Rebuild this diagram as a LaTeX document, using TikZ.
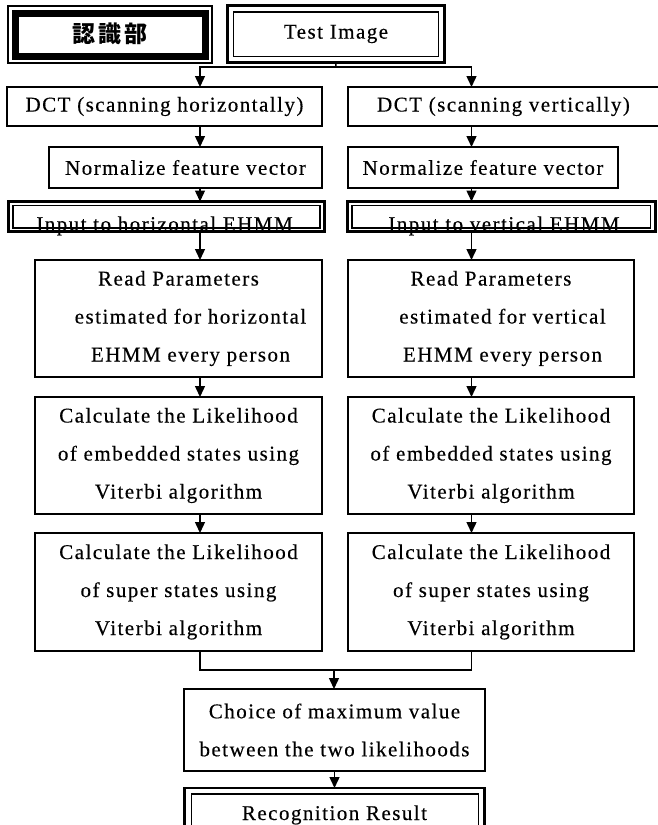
\documentclass[tikz,border=0pt]{standalone}
\usepackage{fontspec}
\usetikzlibrary{arrows.meta,backgrounds}
\newfontfamily\tfont[LetterSpace=7,FakeBold=0.3]{Liberation Serif}
\newfontfamily\cjkfont[LetterSpace=15]{Noto Sans CJK JP}

\begin{document}
\begin{tikzpicture}[x=1pt,y=-1pt,
  every node/.style={font=\tfont\fontsize{21}{38}\selectfont, inner sep=0pt, outer sep=0pt},
  box/.style={draw, fill=white, line width=1.6pt, align=center},
  obox/.style={draw, fill=white, line width=2.2pt},
  ibox/.style={line width=1.6pt},
  link/.style={line width=1.4pt},
  arr/.style={line width=1.4pt, -{Triangle[width=10pt,length=11pt]}},
]
\useasboundingbox (0,0) rectangle (658,825);
\clip (0,0) rectangle (658,825);

% column guides for the connectors
\coordinate (colL) at (200,0);
\coordinate (colR) at (471.5,0);

% title frame
\draw[line width=2pt] (8,6) rectangle (212,63);
\draw[line width=7pt] (15,13) rectangle (205,56);
\node[font=\cjkfont\bfseries\fontsize{23}{23}\selectfont] (title) at (110,34) {認識部};

% input
\node[obox, minimum width=217, minimum height=57] (test) at (336,34) {Test Image};
\draw[ibox] (233.5,12) rectangle (438.5,56.5);

% left branch (horizontal scanning)
\node[box, minimum width=315, minimum height=39] (dctL) at (164.5,106.5) {DCT (scanning horizontally)};
\node[box, minimum width=273, minimum height=41] (normL) at (185.5,167.5) {Normalize feature vector};
\node[obox, minimum width=316, minimum height=30] (hmodel) at (166.5,216.5) {};
\draw[ibox] (13,205.5) rectangle (320,228);
\node[anchor=base] (hmodeltext) at (164.5,231) {Input to horizontal EHMM};
\node[box, minimum width=287, minimum height=117] (readL) at (178.5,318.5)
  {Read Parameters\\\hspace*{24pt}estimated for horizontal\\\hspace*{24pt}EHMM every person};
\node[box, minimum width=287, minimum height=117] (embL) at (178.5,455.5)
  {Calculate the Likelihood\\of embedded states using\\Viterbi algorithm};
\node[box, minimum width=287, minimum height=118] (supL) at (178.5,592)
  {Calculate the Likelihood\\of super states using\\Viterbi algorithm};

% right branch (vertical scanning)
\node[box, minimum width=311, minimum height=39] (dctR) at (503.5,106.5) {DCT (scanning vertically)};
\node[box, minimum width=270, minimum height=41] (normR) at (483,167.5) {Normalize feature vector};
\node[obox, minimum width=308, minimum height=30] (vmodel) at (501.5,216.5) {};
\draw[ibox] (352,205.5) rectangle (650.5,228);
\node[anchor=base] (vmodeltext) at (504,231) {Input to vertical EHMM};
\node[box, minimum width=286, minimum height=117] (readR) at (491,318.5)
  {Read Parameters\\\hspace*{23pt}estimated for vertical\\\hspace*{23pt}EHMM every person};
\node[box, minimum width=286, minimum height=117] (embR) at (491,455.5)
  {Calculate the Likelihood\\of embedded states using\\Viterbi algorithm};
\node[box, minimum width=286, minimum height=118] (supR) at (491,592)
  {Calculate the Likelihood\\of super states using\\Viterbi algorithm};

% decision and output
\node[box, minimum width=301, minimum height=82] (choice) at (334.5,730)
  {Choice of maximum value\\between the two likelihoods};
\node[obox, minimum width=300, minimum height=66] (result) at (334.5,821) {};
\draw[ibox] (191.5,794) rectangle (478.5,840);
\node[anchor=base] (resulttext) at (334.5,820) {Recognition Result};

% connectors sit behind the boxes
\begin{scope}[on background layer]
  % split from the input image
  \coordinate (split) at (335.75,67);
  \draw[link] (test.south) -- (split);
  \draw[arr] (split) -| (dctL.north -| colL);
  \draw[arr] (split) -| (dctR.north -| colR);

  % left chain
  \draw[arr] (dctL.south -| colL) -- (normL.north -| colL);
  \draw[arr] (normL.south -| colL) -- (hmodel.north -| colL);
  \draw[arr] (hmodel.south -| colL) -- (readL.north -| colL);
  \draw[arr] (readL.south -| colL) -- (embL.north -| colL);
  \draw[arr] (embL.south -| colL) -- (supL.north -| colL);

  % right chain
  \draw[arr] (dctR.south -| colR) -- (normR.north -| colR);
  \draw[arr] (normR.south -| colR) -- (vmodel.north -| colR);
  \draw[arr] (vmodel.south -| colR) -- (readR.north -| colR);
  \draw[arr] (readR.south -| colR) -- (embR.north -| colR);
  \draw[arr] (embR.south -| colR) -- (supR.north -| colR);

  % merge of both likelihoods
  \coordinate (join) at (334,670);
  \draw[link] (supL.south -| colL) |- (join);
  \draw[link] (supR.south -| colR) |- (join);
  \draw[arr] (join) -- (choice.north -| join);
  \draw[arr] (choice.south) -- (result.north);
\end{scope}
\end{tikzpicture}
\end{document}
